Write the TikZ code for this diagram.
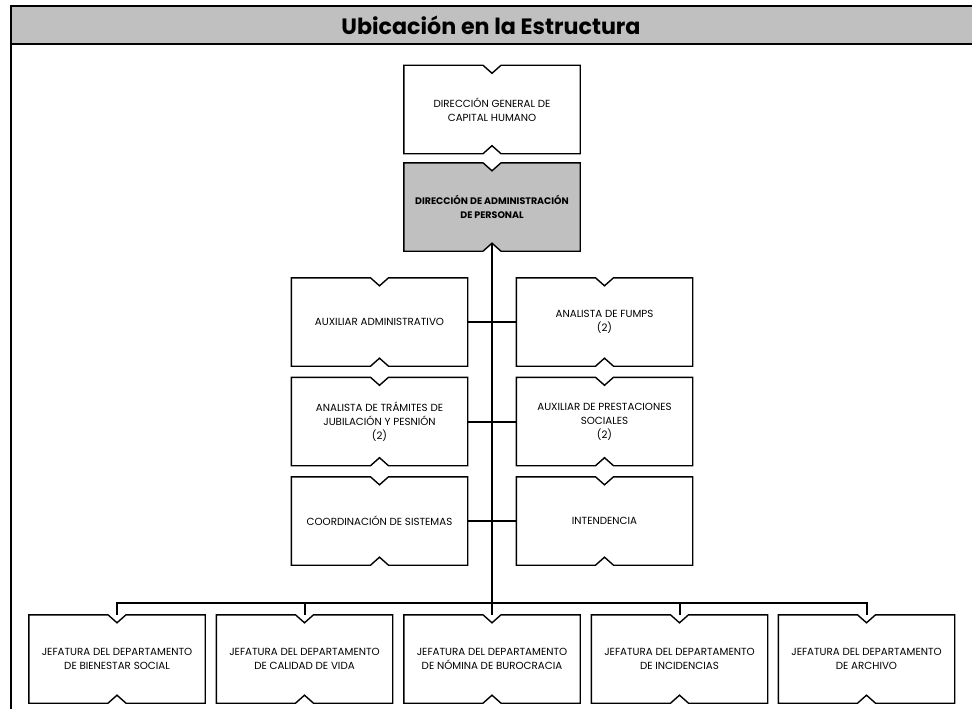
\documentclass[tikz,border=0pt]{standalone}
\usepackage{fontspec}
\setmainfont{Poppins}
\usetikzlibrary{backgrounds}
\definecolor{gris}{RGB}{192,192,192}
\tikzset{
  caja/.style={minimum width=176pt, minimum height=88pt, inner sep=2pt, align=center,
    font=\fontsize{10.3}{14}\selectfont},
  contorno/.style={line width=1.4pt, line join=miter},
  rama/.style={line width=2pt},
  troncal/.style={line width=2.6pt},
}

\begin{document}
\begin{tikzpicture}[x=1pt,y=-1pt]
    \useasboundingbox (0,0) rectangle (972,709);
    % encabezado y marco
    \fill[gris] (11,6) rectangle (980,44);
    \draw[line width=2pt] (980,6) -- (11,6) -- (11,715);
    \draw[line width=2pt] (11,44) -- (980,44);
    \node[font=\fontsize{22.2}{26}\selectfont\bfseries] (titulo) at (491,25) {Ubicación en la Estructura};

    \node[caja] (dgch) at (492,109.5) {DIRECCIÓN GENERAL DE\\CAPITAL HUMANO};
    \node[caja,font=\fontsize{9.5}{14}\selectfont\bfseries] (dap) at (492,207) {DIRECCIÓN DE ADMINISTRACIÓN\\DE PERSONAL};

    \node[caja] (aux) at (379.5,322) {AUXILIAR ADMINISTRATIVO};
    \node[caja] (fumps) at (604.5,322) {ANALISTA DE FUMPS\\(2)};
    \node[caja] (tram) at (379.5,421.5) {ANALISTA DE TRÁMITES DE\\JUBILACIÓN Y PESNIÓN\\(2)};
    \node[caja] (prest) at (604.5,421.5) {AUXILIAR DE PRESTACIONES\\SOCIALES\\(2)};
    \node[caja] (coord) at (379.5,521) {COORDINACIÓN DE SISTEMAS};
    \node[caja] (intend) at (604.5,521) {INTENDENCIA};

    \node[caja] (jbien) at (117,659) {JEFATURA DEL DEPARTAMENTO\\DE BIENESTAR SOCIAL};
    \node[caja] (jcal) at (304.5,659) {JEFATURA DEL DEPARTAMENTO\\DE CALIDAD DE VIDA};
    \node[caja] (jnom) at (492,659) {JEFATURA DEL DEPARTAMENTO\\DE NÓMINA DE BUROCRACIA};
    \node[caja] (jinc) at (679.5,659) {JEFATURA DEL DEPARTAMENTO\\DE INCIDENCIAS};
    \node[caja] (jarch) at (866.5,659) {JEFATURA DEL DEPARTAMENTO\\DE ARCHIVO};

    % contornos con muesca arriba y abajo
    \begin{scope}[on background layer]
    \foreach \n/\c in {dgch/white,dap/gris,aux/white,fumps/white,tram/white,prest/white,
                       coord/white,intend/white,jbien/white,jcal/white,jnom/white,jinc/white,jarch/white}{
        \filldraw[contorno,fill=\c] (\n.north west) -- ([xshift=-9pt]\n.north) -- ([yshift=-8pt]\n.north)
            -- ([xshift=9pt]\n.north) -- (\n.north east) -- (\n.south east) -- ([xshift=9pt]\n.south)
            -- ([yshift=8pt]\n.south) -- ([xshift=-9pt]\n.south) -- (\n.south west) -- cycle;
    }
    \end{scope}

    % conectores
    \coordinate (bus) at (492,603);
    \draw[troncal] ([yshift=8pt]dap.south) -- (jnom.north);
    \foreach \a/\b in {aux/fumps,tram/prest,coord/intend}{
        \draw[rama] (\a) -- (\b);
    }
    \draw[rama] (jbien.north) |- (bus) -| (jarch.north);
    \draw[rama] (jcal.north) |- (bus);
    \draw[rama] (jinc.north) |- (bus);
\end{tikzpicture}
\end{document}
